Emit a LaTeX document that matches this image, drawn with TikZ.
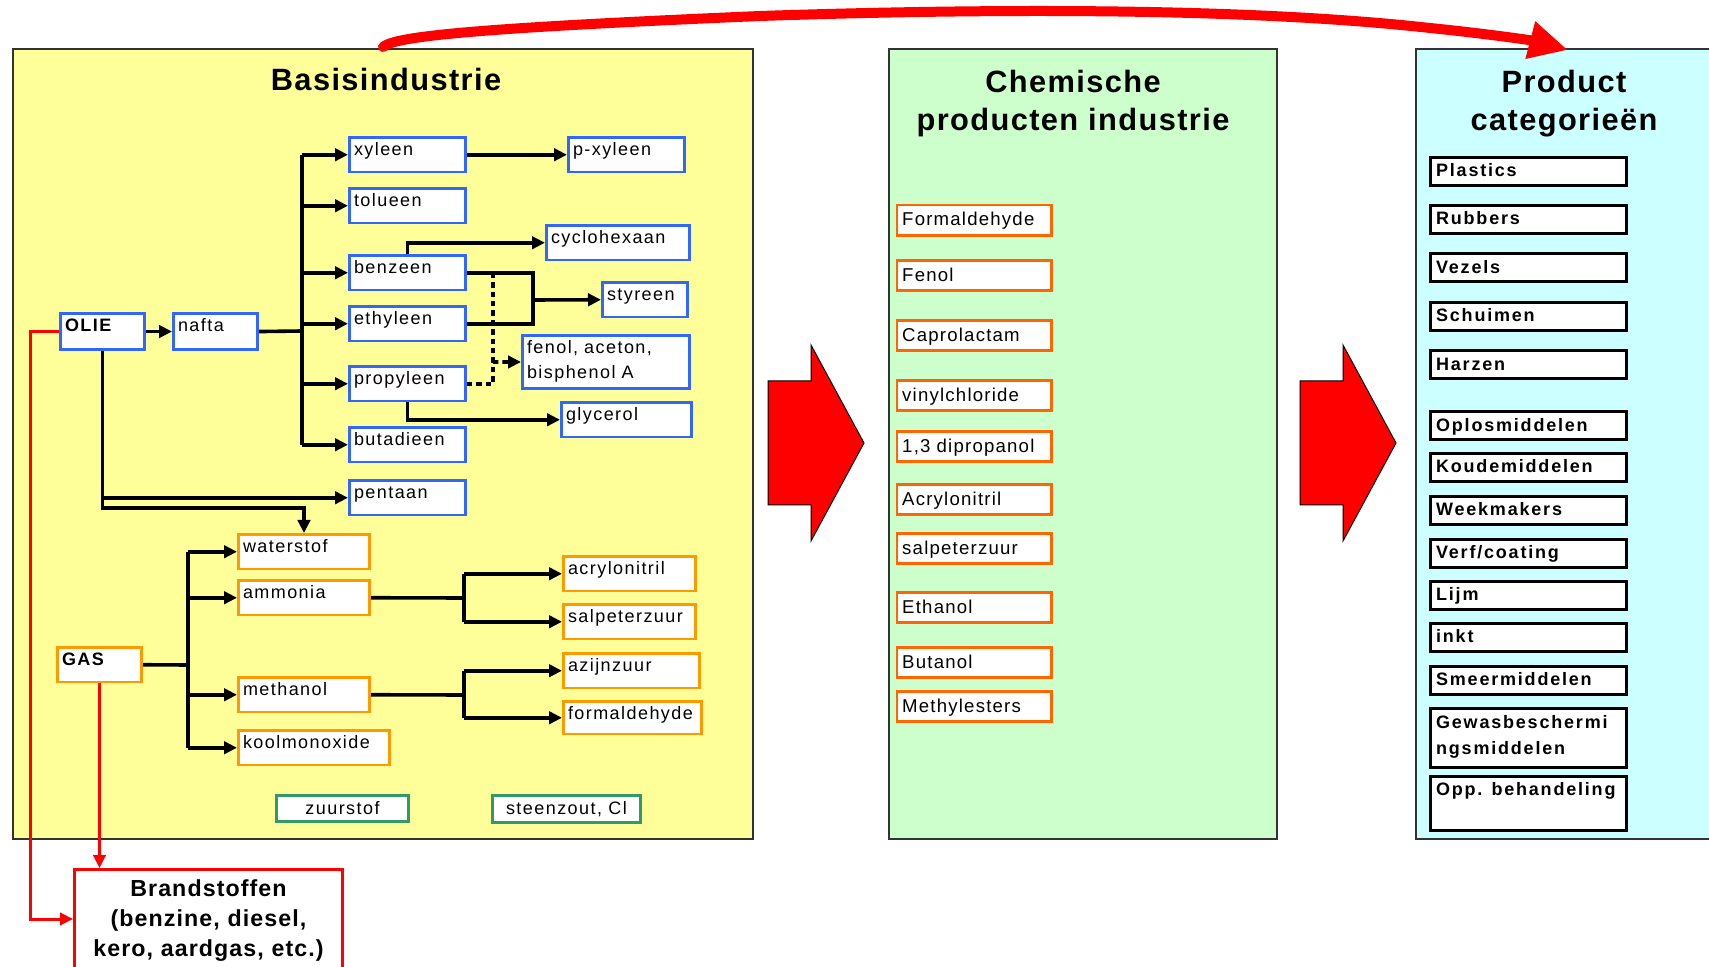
\documentclass[tikz,border=0pt]{standalone}
\usepackage{fontspec}
\setmainfont{Liberation Sans}
\newfontfamily\stoffont[LetterSpace=8]{Liberation Sans}
\newfontfamily\titelfont[LetterSpace=4.5]{Liberation Sans}
\newfontfamily\chemfont[LetterSpace=6.5]{Liberation Sans}
\newfontfamily\catfont[LetterSpace=10]{Liberation Sans}
\newfontfamily\brandfont[LetterSpace=4.7]{Liberation Sans}
\usetikzlibrary{arrows.meta}

\definecolor{geel}{HTML}{FFFF99}
\definecolor{lichtgroen}{HTML}{CCFFCC}
\definecolor{lichtblauw}{HTML}{CCFFFF}
\definecolor{olieblauw}{HTML}{3366FF}
\definecolor{gasoranje}{HTML}{FF9900}
\definecolor{chemoranje}{HTML}{FF6600}
\definecolor{zoutgroen}{HTML}{339966}
\definecolor{rood}{HTML}{FF0000}

\begin{document}
\begin{tikzpicture}[x=0.5pt, y=-0.5pt,
  >={Triangle[length=6.5pt,width=6.2pt]},
  lijn/.style={line width=1.8pt},
  streep/.style={dash pattern=on 2.7pt off 2pt},
  rodelijn/.style={draw=rood, line width=1.5pt},
  stof/.style={draw=#1, line width=1.4pt, fill=white, anchor=north west,
    inner xsep=2.3pt, inner ysep=0pt, align=left, text width=53.5pt,
    text height=9.15pt, text depth=8.2pt,
    font=\stoffont\fontsize{9}{12.35}\selectfont},
  zout/.style={draw=zoutgroen, line width=1.4pt, fill=white, anchor=north west,
    inner sep=0pt, font=\stoffont\fontsize{9}{11}\selectfont},
  chem/.style={draw=chemoranje, line width=1.4pt, fill=white, anchor=north west,
    inner xsep=2.6pt, inner ysep=0pt, align=left, text width=71.9pt,
    text height=10.45pt, text depth=4.65pt,
    font=\chemfont\fontsize{9.3}{11}\selectfont},
  cat/.style={draw=black, line width=1.5pt, fill=white, anchor=north west,
    inner xsep=2.65pt, inner ysep=0pt, align=left, text width=92.7pt,
    text height=9.6pt, text depth=4.4pt,
    font=\catfont\bfseries\fontsize{9}{13}\selectfont},
  titel/.style={anchor=base, align=center,
    font=\titelfont\bfseries\fontsize{15.4}{19.2}\selectfont},
  paneel/.style={draw=black!80, line width=0.7pt},
  bigpijl/.style={fill=rood, draw=black, line width=0.5pt}]

  \useasboundingbox (0,0) rectangle (1709,967); %% page size

  %% panels
  \draw[paneel, fill=geel] (13,49) rectangle (753,839);
  \draw[paneel, fill=lichtgroen] (889,49) rectangle (1277,839);
  \draw[paneel, fill=lichtblauw] (1416,49) rectangle (1730,839);

  %% base anchor sits on the last line
  \node[titel] (basis) at (386,91) {Basisindustrie};
  \node[titel] (chemtitel) at (1073,131) {Chemische\\producten industrie};
  \node[titel] (cattitel) at (1564,131) {Product\\categorieën};

  %% big arrows between the panels
  \draw[bigpijl] (768,381) -- (811,381) -- (811,345) -- (864,443)
  -- (811,541) -- (811,505) -- (768,505) -- cycle;
  \draw[bigpijl] (1300,381) -- (1343,381) -- (1343,345) -- (1396,443)
  -- (1343,541) -- (1343,505) -- (1300,505) -- cycle;

  %% olie side
  \node[stof=olieblauw, text width=37.5pt, text depth=9pt] (olie) at (59,312) {\bfseries OLIE};
  \node[stof=olieblauw, text width=37.5pt, text depth=9pt] (nafta) at (172,312) {nafta};
  \node[stof=olieblauw] (xyleen) at (348,136) {xyleen};
  \node[stof=olieblauw] (tolueen) at (348,187) {tolueen};
  \node[stof=olieblauw] (benzeen) at (348,254) {benzeen};
  \node[stof=olieblauw] (ethyleen) at (348,305) {ethyleen};
  \node[stof=olieblauw] (propyleen) at (348,365) {propyleen};
  \node[stof=olieblauw] (butadieen) at (348,426) {butadieen};
  \node[stof=olieblauw] (pentaan) at (348,479) {pentaan};
  \node[stof=olieblauw] (pxyleen) at (567,136) {p-xyleen};
  \node[stof=olieblauw, text width=67pt] (cyclohexaan) at (545,224) {cyclohexaan};
  \node[stof=olieblauw, text width=38pt] (styreen) at (601,281) {styreen};
  \node[stof=olieblauw, text width=79pt, text depth=17.45pt]
  (fenol) at (521,334) {fenol, aceton,\\bisphenol A};
  \node[stof=olieblauw, text width=60.5pt] (glycerol) at (560,401) {glycerol};

  \coordinate (nsplit) at (302,331);
  \draw[lijn,->] (olie.east) -- (nafta.west);
  \draw[lijn] (nafta.east) -- (nsplit);
  \draw[lijn] (nsplit |- xyleen.west) -- (nsplit |- butadieen.west);
  \foreach \n in {xyleen,tolueen,benzeen,ethyleen,propyleen,butadieen}
    \draw[lijn,->] (nsplit |- \n.west) -- (\n.west);

  \draw[lijn,->] (xyleen.east) -- (pxyleen.west);
  \draw[lijn,->] (benzeen.north) |- (cyclohexaan.west);
  \coordinate (sjoin) at (533,300);
  \draw[lijn] (benzeen.east) -| (sjoin) |- (ethyleen.east);
  \draw[lijn,->] (sjoin) -- (styreen.west);
  \coordinate (dsplit) at (493,362);
  \draw[lijn,streep] (propyleen.east) -| (dsplit |- benzeen.east);
  \draw[lijn,streep,->] (dsplit) -- (fenol.west);
  \draw[lijn,->] (propyleen.south) |- (glycerol.west);

  \coordinate (obend) at (304,508);
  \draw[lijn,->] (olie.south) |- (pentaan.west);

  %% gas side
  \node[stof=gasoranje, text width=37.5pt] (gas) at (56,646) {\bfseries GAS};
  \node[stof=gasoranje, text width=61pt] (waterstof) at (237,533) {waterstof};
  \node[stof=gasoranje, text width=61pt] (ammonia) at (237,579) {ammonia};
  \node[stof=gasoranje, text width=61pt] (methanol) at (237,676) {methanol};
  \node[stof=gasoranje, text width=71pt] (koolmonoxide) at (237,729) {koolmonoxide};
  \node[stof=gasoranje, text width=61.5pt] (acrylonitril) at (562,555) {acrylonitril};
  \node[stof=gasoranje, text width=61.5pt] (salpeterzuur) at (562,603) {salpeterzuur};
  \node[stof=gasoranje, text width=63.5pt] (azijnzuur) at (562,652) {azijnzuur};
  \node[stof=gasoranje, text width=64.5pt, text depth=7.2pt]
  (formaldehyde) at (562,700) {formaldehyde};

  \draw[lijn,->] (olie.south) |- (obend) -- (waterstof.north);

  \coordinate (gsplit) at (188,665);
  \draw[lijn] (gas.east) -- (gsplit);
  \draw[lijn] (gsplit |- waterstof.west) -- (gsplit |- koolmonoxide.west);
  \foreach \n in {waterstof,ammonia,methanol,koolmonoxide}
    \draw[lijn,->] (gsplit |- \n.west) -- (\n.west);

  \coordinate (asplit) at (464,598);
  \draw[lijn] (ammonia.east) -- (asplit);
  \draw[lijn] (asplit |- acrylonitril.west) -- (asplit |- salpeterzuur.west);
  \draw[lijn,->] (asplit |- acrylonitril.west) -- (acrylonitril.west);
  \draw[lijn,->] (asplit |- salpeterzuur.west) -- (salpeterzuur.west);

  \coordinate (msplit) at (464,695);
  \draw[lijn] (methanol.east) -- (msplit);
  \draw[lijn] (msplit |- azijnzuur.west) -- (msplit |- formaldehyde.west);
  \draw[lijn,->] (msplit |- azijnzuur.west) -- (azijnzuur.west);
  \draw[lijn,->] (msplit |- formaldehyde.west) -- (formaldehyde.west);

  \node[zout, minimum width=66.1pt, minimum height=13.1pt] (zuurstof) at (275,794) {zuurstof};
  \node[zout, minimum width=74.1pt, minimum height=13.6pt] (steenzout) at (491,794) {steenzout, Cl};

  %% brandstoffen
  \node[draw=rood, line width=1.5pt, fill=white, anchor=north west, inner sep=0pt,
    text width=134pt, align=center, text height=13.6pt, text depth=41pt,
    font=\brandfont\bfseries\fontsize{11.6}{15}\selectfont]
  (brand) at (73,868) {Brandstoffen\\(benzine, diesel,\\kero, aardgas, etc.)};

  \coordinate (rhoek) at (30,919);
  \draw[rodelijn,->] (olie.west) -| (rhoek) -- (rhoek -| brand.west);
  \draw[rodelijn,->] (gas.south) -- (gas.south |- brand.north);

  %% chemische producten
  \node[chem] (c1) at (895.6,203.7) {Formaldehyde};
  \node[chem] (c2) at (895.6,259.3) {Fenol};
  \node[chem] (c3) at (895.6,319) {Caprolactam};
  \node[chem] (c4) at (895.6,379) {vinylchloride};
  \node[chem] (c5) at (895.6,430) {1,3 dipropanol};
  \node[chem] (c6) at (895.6,483) {Acrylonitril};
  \node[chem] (c7) at (895.6,532) {salpeterzuur};
  \node[chem] (c8) at (895.6,591) {Ethanol};
  \node[chem] (c9) at (895.6,646) {Butanol};
  \node[chem] (c10) at (895.6,690) {Methylesters};

  %% product categorieen
  \node[cat] (plastics) at (1429.3,155.6) {Plastics};
  \node[cat] (rubbers) at (1429.3,203.7) {Rubbers};
  \node[cat] (vezels) at (1429.3,252.5) {Vezels};
  \node[cat] (schuimen) at (1429.3,300.6) {Schuimen};
  \node[cat] (harzen) at (1429.3,349.4) {Harzen};
  \node[cat] (oplos) at (1429.3,410.5) {Oplosmiddelen};
  \node[cat] (koude) at (1429.3,451.9) {Koudemiddelen};
  \node[cat] (week) at (1429.3,495) {Weekmakers};
  \node[cat] (verf) at (1429.3,537.7) {Verf/coating};
  \node[cat] (lijm) at (1429.3,580) {Lijm};
  \node[cat] (inkt) at (1429.3,622) {inkt};
  \node[cat] (smeer) at (1429.3,664.8) {Smeermiddelen};
  \node[cat, text depth=19.9pt] (gewas) at (1429.3,707.4) {Gewasbeschermi\\ngsmiddelen};
  \node[cat, text depth=17.4pt] (opp) at (1429.3,774.7) {Opp. behandeling};

  %% long arrow over the top
  \draw[rood, line width=5pt, line cap=round, -{Triangle[length=19.5pt,width=18pt]}]
  (383,47) .. controls (395,36) and (480,28) .. (760,16)
  .. controls (1000,8) and (1250,8) .. (1430,28)
  .. controls (1480,33) and (1530,40) .. (1568,50);

\end{tikzpicture}
\end{document}
